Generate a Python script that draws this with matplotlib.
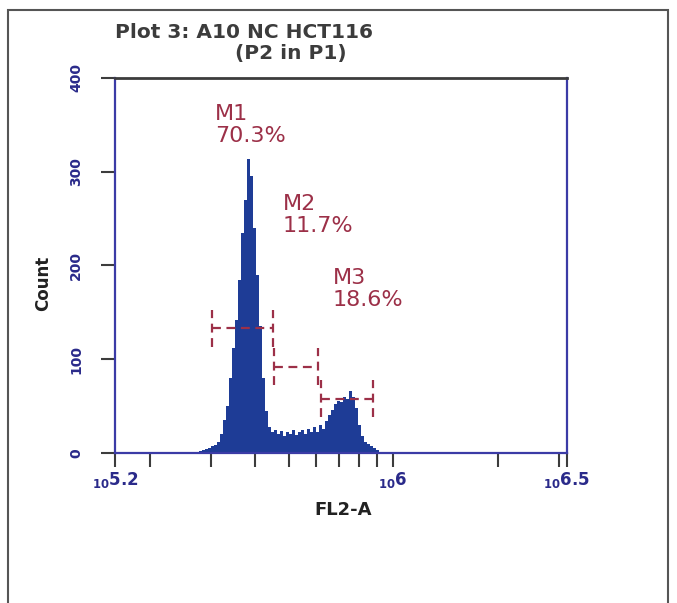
import numpy as np
import matplotlib.pyplot as plt
from matplotlib.ticker import FixedLocator, LogLocator, NullFormatter

# FL2-A histogram counts (log-spaced channels between 10^5.44 and 10^5.97)
counts = [2, 3, 4, 5, 7, 9, 12, 20, 35, 50,
          80, 112, 142, 185, 235, 270, 314, 295, 240, 190,
          135, 80, 45, 28, 22, 24, 20, 23, 18, 22,
          20, 25, 19, 22, 24, 20, 26, 22, 28, 22,
          30, 26, 34, 40, 46, 52, 55, 54, 60, 58,
          66, 60, 48, 30, 18, 12, 10, 7, 5, 3, 1]
chan_lo, chan_hi = 5.4402, 5.9665

# marker gates M1..M3
gate_names = ['M1', 'M2', 'M3']
gate_pct = ['70.3%', '11.7%', '18.6%']
gate_lo = [3.01e5, 4.54e5, 6.19e5]
gate_hi = [4.51e5, 6.08e5, 8.75e5]
gate_y = [133, 92, 58]

xtick_vals = [10 ** 5.2, 1e6, 10 ** 6.5]
xtick_text = [r'${}_{10}5.2$', r'${}_{10}6$', r'${}_{10}6.5$']
ytick_vals = [0, 100, 200, 300, 400]

blue = '#3b3ba6'
fill = '#1e3c96'
gate_col = '#9c3048'
dark = '#3c3c3c'

plt.rcParams['mathtext.default'] = 'bf'

fig = plt.figure(figsize=(6.77, 6.03), dpi=100)
ax = fig.add_axes([0.1699, 0.2488, 0.6677, 0.6219])

edges = np.logspace(chan_lo, chan_hi, len(counts) + 1)
ax.stairs(counts, edges, fill=True, color=fill)

for lo, hi, y in zip(gate_lo, gate_hi, gate_y):
    kw = dict(color=gate_col, lw=1.6, ls=(0, (4, 2.5)))
    ax.plot([lo, hi], [y, y], **kw)
    ax.plot([lo, lo], [y - 20, y + 20], **kw)
    ax.plot([hi, hi], [y - 20, y + 20], **kw)

# gate labels
label_x = [3.07e5, 4.82e5, 6.71e5]
label_y = [355, 259, 180]
for name, pct, x, y in zip(gate_names, gate_pct, label_x, label_y):
    ax.text(x, y, name, color=gate_col, fontsize=16, va='baseline')
    ax.text(x, y - 23, pct, color=gate_col, fontsize=16, va='baseline')

ax.set_xscale('log')
ax.set_xlim(10 ** 5.2, 10 ** 6.5)
ax.set_ylim(0, 400)
ax.xaxis.set_major_locator(FixedLocator(xtick_vals))
ax.set_xticklabels(xtick_text)
ax.xaxis.set_minor_locator(LogLocator(base=10, subs=np.arange(2, 10)))
ax.xaxis.set_minor_formatter(NullFormatter())
ax.set_yticks(ytick_vals)
ax.set_yticklabels([str(v) for v in ytick_vals], rotation=90, va='center')

ax.tick_params(axis='x', which='both', direction='out', length=10,
               width=1.5, color=dark, pad=2, labelsize=12, labelcolor='#2a2a8a')
ax.tick_params(axis='y', direction='out', length=10, width=1.5,
               color=dark, pad=13, labelsize=10, labelcolor='#2a2a8a')
for lbl in ax.get_yticklabels():
    lbl.set_fontweight('bold')

for side in ['left', 'right', 'bottom']:
    ax.spines[side].set_color(blue)
    ax.spines[side].set_linewidth(1.6)
ax.spines['top'].set_color(dark)
ax.spines['top'].set_linewidth(2)

ax.set_xlabel('FL2-A', fontsize=13, fontweight='bold', color='#222222')
ax.xaxis.set_label_coords(0.504, -0.128)
fig.text(43 / 677, 1 - 283 / 603, 'Count', rotation=90, ha='center',
         va='center', fontsize=12, fontweight='bold', color='#222222')

fig.text(115 / 677, 1 - 38 / 603, 'Plot 3: A10 NC HCT116', fontsize=14.5,
         fontweight='bold', color=dark, va='baseline')
fig.text(235 / 677, 1 - 59 / 603, '(P2 in P1)', fontsize=14.5,
         fontweight='bold', color=dark, va='baseline')

# outer panel frame
fig.add_artist(plt.Rectangle((8 / 677, -0.02), 660 / 677, 1 - 10 / 603 + 0.02,
                             transform=fig.transFigure, fill=False,
                             ec='#555555', lw=1.5))

fig.savefig('out.png', dpi=100)
